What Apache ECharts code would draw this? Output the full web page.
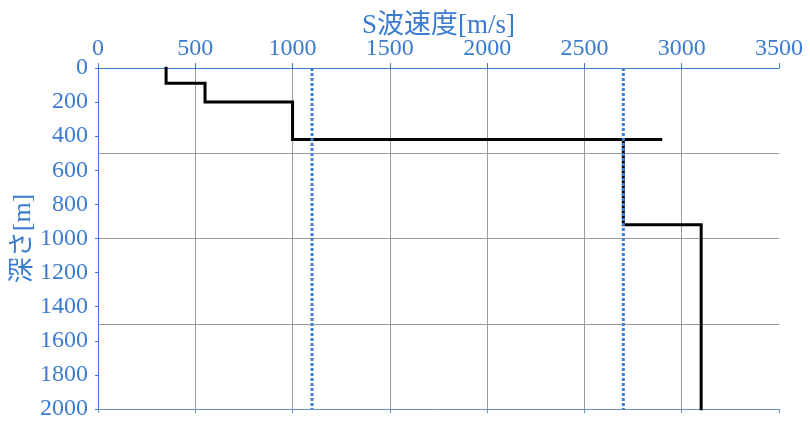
<!DOCTYPE html>
<html lang="ja">
<head>
    <meta charset="UTF-8">
    <title>S波速度構造</title>
    <script type="text/javascript" src="https://cdn.jsdelivr.net/npm/echarts@6/dist/echarts.min.js"></script>
    <style>
        html, body { margin: 0; padding: 0; background: #fff; }
    </style>
</head>
<body>
<div id="main" style="width: 810px;height:426px;"></div>
<script type="text/javascript">
    // S波速度[m/s] と 深さ[m] の階段状プロファイル
    var velocity = [350, 350, 550, 550, 1000, 1000, 2900, 2700, 2700, 3100, 3100];
    var depth    = [0,   90,  90,  200, 200,  420,  420,  420,  920,  920,  2000];
    // 青い点線（基準速度）
    var refVelocity = [1100, 2700];
    var refDepth = [0, 2000];

    var blue = '#3a7bd0';
    var font = "'Liberation Serif', 'Noto Sans CJK JP', serif";

    var profile = [];
    for (var i = 0; i < velocity.length; i++) {
        profile.push([velocity[i], depth[i]]);
    }

    var series = [{
        type: 'line',
        xAxisIndex: 0,
        yAxisIndex: 0,
        data: profile,
        symbol: 'none',
        animation: false,
        lineStyle: { color: '#000', width: 3, cap: 'square', join: 'miter' }
    }];
    for (var j = 0; j < refVelocity.length; j++) {
        series.push({
            type: 'line',
            xAxisIndex: 0,
            yAxisIndex: 0,
            data: [[refVelocity[j], refDepth[0]], [refVelocity[j], refDepth[1]]],
            symbol: 'none',
            animation: false,
            z: 3,
            lineStyle: { color: '#3c80da', width: 3, type: [3, 2] }
        });
    }

    function plain(v) { return String(v); }

    var myChart = echarts.init(document.getElementById('main'));
    myChart.setOption({
        animation: false,
        grid: { left: 98, right: 31, top: 68, bottom: 17, outerBoundsMode: 'none', containLabel: false },
        xAxis: [{
            type: 'value',
            position: 'top',
            min: 0, max: 3500, interval: 500,
            name: 'S波速度[m/s]',
            nameLocation: 'middle',
            nameGap: 29,
            nameMoveOverlap: false,
            nameTextStyle: { color: blue, fontSize: 27, fontFamily: font },
            axisLine: { show: true, lineStyle: { color: blue, width: 1 } },
            axisTick: { show: true, inside: false, length: 5, lineStyle: { color: blue } },
            axisLabel: { color: blue, fontSize: 24, fontFamily: font, margin: 7, formatter: plain },
            splitLine: { show: true, showMinLine: false, showMaxLine: false, lineStyle: { color: '#9a9a9a', width: 1 } }
        }, {
            type: 'value',
            position: 'bottom',
            min: 0, max: 3500, interval: 500,
            axisLine: { show: true, onZero: false, lineStyle: { color: '#6a8fc8', width: 1 } },
            axisTick: { show: true, length: 4, lineStyle: { color: '#6a8fc8' } },
            axisLabel: { show: false },
            splitLine: { show: false }
        }],
        yAxis: [{
            type: 'value',
            inverse: true,
            min: 0, max: 2000, interval: 200,
            name: '深さ[m]',
            nameLocation: 'middle',
            nameGap: 62,
            nameMoveOverlap: false,
            nameTextStyle: { color: blue, fontSize: 26, fontFamily: font },
            axisLine: { show: true, onZero: false, lineStyle: { color: blue, width: 1 } },
            axisTick: { show: true, length: 3, lineStyle: { color: blue } },
            axisLabel: { color: blue, fontSize: 24, fontFamily: font, margin: 10, formatter: plain },
            splitLine: { show: false }
        }, {
            type: 'value',
            inverse: true,
            min: 0, max: 2000, interval: 500,
            axisLine: { show: false },
            axisTick: { show: false },
            axisLabel: { show: false },
            splitLine: { show: true, showMinLine: false, showMaxLine: false, lineStyle: { color: '#9a9a9a', width: 1 } }
        }],
        series: series
    });
</script>
</body>
</html>
